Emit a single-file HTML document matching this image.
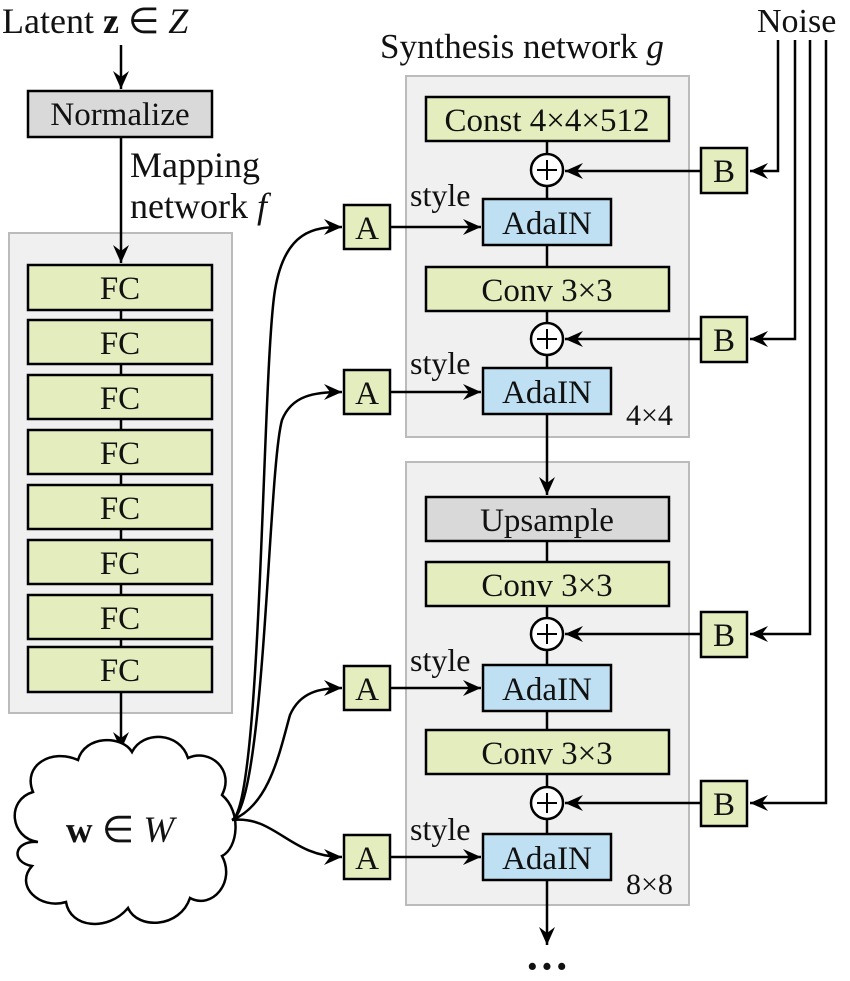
<!DOCTYPE html>
<html><head><meta charset="utf-8"><style>
html,body{margin:0;padding:0;background:#fff}
svg{display:block}
text{font-family:"Liberation Serif",serif;fill:#111}
</style></head><body>
<svg width="850" height="981" viewBox="0 0 850 981" xmlns="http://www.w3.org/2000/svg">
<defs>
<marker id="ar" viewBox="0 0 20 20" refX="18" refY="10" markerWidth="20" markerHeight="20" markerUnits="userSpaceOnUse" orient="auto">
<path d="M0,2 L18,10 L0,18 L6,10 Z" fill="#000"/>
</marker>
</defs>
<g stroke="#000" stroke-width="2.5" fill="none">
<rect x="9" y="233" width="223" height="480" fill="#f0f0f0" stroke="#bbb" stroke-width="2"/>
<rect x="406" y="76" width="283" height="361" fill="#f0f0f0" stroke="#bbb" stroke-width="2"/>
<rect x="406" y="462" width="283" height="443" fill="#f0f0f0" stroke="#bbb" stroke-width="2"/>
<line x1="121" y1="45" x2="121" y2="89" marker-end="url(#ar)"/>
<line x1="121" y1="137" x2="121" y2="263" marker-end="url(#ar)"/>
<line x1="121" y1="300" x2="121" y2="660"/>
<line x1="121" y1="691" x2="121" y2="750" marker-end="url(#ar)"/>
</g>
<g stroke="#000" stroke-width="2.5">
<rect x="28" y="91" width="184" height="46" fill="#d9d9d9"/>
<rect x="28" y="265" width="184" height="45" fill="#e4edbe"/>
<rect x="28" y="320" width="184" height="44" fill="#e4edbe"/>
<rect x="28" y="375" width="184" height="44" fill="#e4edbe"/>
<rect x="28" y="430" width="184" height="44" fill="#e4edbe"/>
<rect x="28" y="485" width="184" height="44" fill="#e4edbe"/>
<rect x="28" y="540" width="184" height="44" fill="#e4edbe"/>
<rect x="28" y="595" width="184" height="44" fill="#e4edbe"/>
<rect x="28" y="647" width="184" height="45" fill="#e4edbe"/>
</g>
<g font-size="33" text-anchor="middle">
<text x="120" y="125">Normalize</text>
<text x="120" y="299">FC</text><text x="120" y="354">FC</text><text x="120" y="409">FC</text><text x="120" y="464">FC</text>
<text x="120" y="519">FC</text><text x="120" y="574">FC</text><text x="120" y="629">FC</text><text x="120" y="681">FC</text>
</g>
<text x="2" y="33" font-size="36">Latent <tspan font-weight="bold">z</tspan> ∈ <tspan font-style="italic">Z</tspan></text>
<text x="130" y="177" font-size="36">Mapping</text>
<text x="130" y="218" font-size="36">network <tspan font-style="italic">f</tspan></text>
<path d="M38,842 C10,838 6,800 33,792 C22,765 52,748 78,760 C85,735 122,735 132,752 C143,730 180,732 188,758 C210,748 235,770 222,795 C242,812 238,848 222,856 C236,882 212,910 190,898 C180,928 138,930 128,908 C108,932 70,928 66,902 C40,910 14,886 32,866 C10,862 14,840 38,842 Z" fill="#fff" stroke="#000" stroke-width="2.5"/>
<text x="120" y="842" font-size="37" text-anchor="middle"><tspan font-weight="bold">w</tspan> ∈ <tspan font-style="italic">W</tspan></text>
<g stroke="#000" stroke-width="2.5" fill="none">
<path d="M232,820 C262,805 262,370 275,290 C285,230 315,227 342,227" marker-end="url(#ar)"/>
<path d="M232,820 C265,805 268,470 282,420 C292,395 315,392 342,392" marker-end="url(#ar)"/>
<path d="M232,820 C270,805 280,750 290,715 C300,692 320,688 342,688" marker-end="url(#ar)"/>
<path d="M232,820 C275,815 290,857 342,857" marker-end="url(#ar)"/>
<line x1="390" y1="227" x2="481" y2="227" marker-end="url(#ar)"/>
<line x1="390" y1="392" x2="481" y2="392" marker-end="url(#ar)"/>
<line x1="390" y1="688" x2="481" y2="688" marker-end="url(#ar)"/>
<line x1="390" y1="857" x2="481" y2="857" marker-end="url(#ar)"/>
<line x1="547" y1="141" x2="547" y2="368"/>
<line x1="547" y1="414" x2="547" y2="495" marker-end="url(#ar)"/>
<line x1="547" y1="541" x2="547" y2="835"/>
<line x1="547" y1="879" x2="547" y2="945" marker-end="url(#ar)"/>
<polyline points="778,40 778,171 750,171" marker-end="url(#ar)"/>
<polyline points="795,40 795,339 750,339" marker-end="url(#ar)"/>
<polyline points="810,40 810,634 750,634" marker-end="url(#ar)"/>
<polyline points="826,40 826,803 750,803" marker-end="url(#ar)"/>
<line x1="701" y1="171" x2="565" y2="171" marker-end="url(#ar)"/>
<line x1="701" y1="339" x2="565" y2="339" marker-end="url(#ar)"/>
<line x1="701" y1="634" x2="565" y2="634" marker-end="url(#ar)"/>
<line x1="701" y1="803" x2="565" y2="803" marker-end="url(#ar)"/>
</g>
<g stroke="#000" stroke-width="2.5">
<rect x="344" y="205" width="46" height="44" fill="#e4edbe"/>
<rect x="344" y="370" width="46" height="44" fill="#e4edbe"/>
<rect x="344" y="666" width="46" height="44" fill="#e4edbe"/>
<rect x="344" y="835" width="46" height="44" fill="#e4edbe"/>
<rect x="701" y="148" width="46" height="45" fill="#e4edbe"/>
<rect x="701" y="317" width="46" height="45" fill="#e4edbe"/>
<rect x="701" y="612" width="46" height="45" fill="#e4edbe"/>
<rect x="701" y="781" width="46" height="45" fill="#e4edbe"/>
<rect x="426" y="97" width="243" height="44" fill="#e4edbe"/>
<rect x="483" y="199" width="128" height="46" fill="#bfe0f3"/>
<rect x="426" y="267" width="243" height="44" fill="#e4edbe"/>
<rect x="483" y="368" width="128" height="46" fill="#bfe0f3"/>
<rect x="426" y="497" width="243" height="44" fill="#d9d9d9"/>
<rect x="426" y="562" width="243" height="44" fill="#e4edbe"/>
<rect x="483" y="665" width="128" height="46" fill="#bfe0f3"/>
<rect x="426" y="730" width="243" height="44" fill="#e4edbe"/>
<rect x="483" y="834" width="128" height="46" fill="#bfe0f3"/>
<g fill="#fff">
<circle cx="547" cy="170" r="16"/><circle cx="547" cy="339" r="16"/>
<circle cx="547" cy="634" r="16"/><circle cx="547" cy="803" r="16"/>
</g>
<path d="M537,170h20M547,160v20M537,339h20M547,329v20M537,634h20M547,624v20M537,803h20M547,793v20" fill="none" stroke-width="2"/>
</g>
<g font-size="33" text-anchor="middle">
<text x="367" y="239">A</text><text x="367" y="404">A</text><text x="367" y="700">A</text><text x="367" y="869">A</text>
<text x="724" y="182">B</text><text x="724" y="351">B</text><text x="724" y="646">B</text><text x="724" y="815">B</text>
<text x="547" y="131">Const 4×4×512</text>
<text x="547" y="234">AdaIN</text>
<text x="547" y="301">Conv 3×3</text>
<text x="547" y="403">AdaIN</text>
<text x="547" y="531">Upsample</text>
<text x="547" y="596">Conv 3×3</text>
<text x="547" y="700">AdaIN</text>
<text x="547" y="764">Conv 3×3</text>
<text x="547" y="869">AdaIN</text>
</g>
<g font-size="32">
<text x="410" y="206">style</text><text x="410" y="374">style</text>
<text x="410" y="671">style</text><text x="410" y="840">style</text>
<text x="626" y="425" font-size="30">4×4</text><text x="626" y="894" font-size="30">8×8</text>
</g>
<text x="380" y="58" font-size="35">Synthesis network <tspan font-style="italic">g</tspan></text>
<text x="757" y="32" font-size="34">Noise</text>
<text x="547" y="981" font-size="44" text-anchor="middle" font-weight="bold">···</text>
</svg>
</body></html>
